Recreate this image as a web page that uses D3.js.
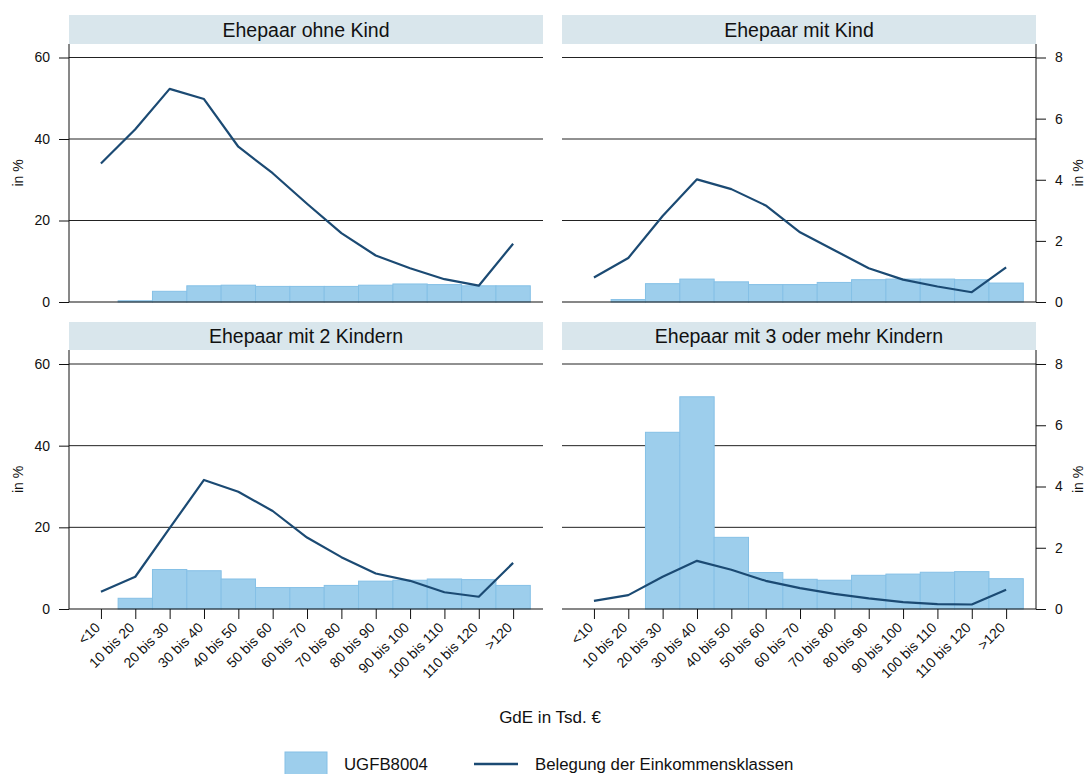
<!DOCTYPE html>
<html><head><meta charset="utf-8">
<script src="https://cdn.jsdelivr.net/npm/d3@7"></script>
<style>
body{margin:0;background:#fff}
svg{display:block;font-family:Arial,"Liberation Sans",sans-serif}
</style>
</head><body>
<svg id="chart" width="1085" height="774"></svg>
<script>
// ---------- data ----------
const categories = ["<10","10 bis 20","20 bis 30","30 bis 40","40 bis 50","50 bis 60","60 bis 70","70 bis 80","80 bis 90","90 bis 100","100 bis 110","110 bis 120",">120"];
const panelTitles = ["Ehepaar ohne Kind","Ehepaar mit Kind","Ehepaar mit 2 Kindern","Ehepaar mit 3 oder mehr Kindern"];

// UGFB8004 (bars, right axis 0-8)
const ugfbOhneKind   = [null,0.04,0.35,0.53,0.55,0.51,0.51,0.51,0.55,0.59,0.57,0.53,0.53];
const ugfbMitKind    = [null,0.08,0.60,0.75,0.66,0.57,0.57,0.64,0.73,0.75,0.75,0.73,0.62];
const ugfbZweiKinder = [null,0.35,1.29,1.25,0.98,0.70,0.70,0.77,0.91,0.94,0.98,0.96,0.77];
const ugfbDreiKinder = [null,null,5.77,6.93,2.34,1.19,0.97,0.94,1.10,1.14,1.20,1.22,0.99];

// Belegung der Einkommensklassen (line, left axis 0-60)
const belegOhneKind   = [34.0,42.4,52.3,49.8,38.1,31.6,24.1,16.9,11.4,8.3,5.6,4.0,14.3];
const belegMitKind    = [6.0,10.8,21.1,30.1,27.7,23.7,17.1,12.7,8.3,5.5,3.8,2.4,8.5];
const belegZweiKinder = [4.2,7.9,19.8,31.6,28.7,24.0,17.5,12.7,8.7,6.9,4.1,3.0,11.3];
const belegDreiKinder = [2.0,3.4,7.9,11.8,9.6,6.9,5.1,3.7,2.6,1.7,1.2,1.1,4.7];

const leftTicks  = [0,20,40,60];
const rightTicks = [0,2,4,6,8];
const legendLabels = ["UGFB8004","Belegung der Einkommensklassen"];
const xTitle = "GdE in Tsd. €";
const yTitle = "in %";

// ---------- layout ----------
const barFill = "#9dceec", barStroke = "#85c0e6", lineColor = "#1b4a73", stripFill = "#d9e6ec";
const cols = [{x0:69,x1:543},{x0:562,x1:1036}];
const rows = [{stripTop:15,top:44,y60:57.5,y0:302},{stripTop:322,top:350,y60:364,y0:609}];

const barsData = [ugfbOhneKind, ugfbMitKind, ugfbZweiKinder, ugfbDreiKinder];
const lineData = [belegOhneKind, belegMitKind, belegZweiKinder, belegDreiKinder];

const svg = d3.select("#chart");

panelTitles.forEach((title, p) => {
  const c = cols[p % 2], r = rows[Math.floor(p / 2)];
  const isLeft = p % 2 === 0, isBottom = p >= 2;
  const g = svg.append("g");

  const x = d3.scaleLinear().domain([-0.93, 12.87]).range([c.x0, c.x1]);
  const yL = d3.scaleLinear().domain([0, 60]).range([r.y0, r.y60]);
  const yR = d3.scaleLinear().domain([0, 8]).range([r.y0, r.y60]);
  const bw = x(1) - x(0);

  // strip
  g.append("rect").attr("x", c.x0).attr("y", r.stripTop).attr("width", c.x1 - c.x0)
    .attr("height", r.top - r.stripTop).attr("fill", stripFill);
  g.append("text").attr("x", (c.x0 + c.x1) / 2).attr("y", (r.stripTop + r.top) / 2)
    .attr("dy", "0.36em").attr("text-anchor", "middle").attr("font-size", 19.5)
    .attr("fill", "#111").text(title);

  // gridlines (left axis)
  g.selectAll(".grid").data(leftTicks.filter(t => t > 0)).enter().append("line")
    .attr("x1", c.x0).attr("x2", c.x1)
    .attr("y1", d => yL(d)).attr("y2", d => yL(d))
    .attr("stroke", "#222").attr("stroke-width", 1);

  // bars
  const bars = barsData[p].map((v, i) => ({v, i})).filter(d => d.v != null && d.v > 0);
  g.selectAll(".bar").data(bars).enter().append("rect")
    .attr("x", d => x(d.i) - bw / 2).attr("width", bw)
    .attr("y", d => yR(d.v)).attr("height", d => r.y0 - yR(d.v))
    .attr("fill", barFill).attr("stroke", barStroke).attr("stroke-width", 1);

  // baseline
  g.append("line").attr("x1", c.x0).attr("x2", c.x1).attr("y1", r.y0).attr("y2", r.y0)
    .attr("stroke", "#111").attr("stroke-width", 1.2);

  // line
  const line = d3.line().x((d, i) => x(i)).y(d => yL(d));
  g.append("path").datum(lineData[p]).attr("d", line).attr("fill", "none")
    .attr("stroke", lineColor).attr("stroke-width", 2.2).attr("stroke-linejoin", "round");

  // y axis
  if (isLeft) {
    const ax = g.append("g").attr("transform", `translate(${c.x0},0)`)
      .call(d3.axisLeft(yL).tickValues(leftTicks).tickSize(10).tickPadding(9).tickFormat(d3.format("d")));
    ax.select(".domain").attr("d", `M0,${r.top}V${r.y0}`).attr("stroke", "#111");
    ax.selectAll("line").attr("stroke", "#111");
    ax.selectAll("text").attr("font-size", 14).attr("fill", "#111").attr("font-family", "Arial, 'Liberation Sans', sans-serif");
    g.append("text").attr("transform", `translate(18,${(r.top + r.y0) / 2}) rotate(-90)`)
      .attr("dy", "0.36em").attr("text-anchor", "middle").attr("font-size", 14).attr("fill", "#111").text(yTitle);
  } else {
    const ax = g.append("g").attr("transform", `translate(${c.x1},0)`)
      .call(d3.axisRight(yR).tickValues(rightTicks).tickSize(10).tickPadding(9).tickFormat(d3.format("d")));
    ax.select(".domain").attr("d", `M0,${r.top}V${r.y0}`).attr("stroke", "#111");
    ax.selectAll("line").attr("stroke", "#111");
    ax.selectAll("text").attr("font-size", 14).attr("fill", "#111").attr("font-family", "Arial, 'Liberation Sans', sans-serif");
    g.append("text").attr("transform", `translate(1078,${(r.top + r.y0) / 2}) rotate(-90)`)
      .attr("dy", "0.36em").attr("text-anchor", "middle").attr("font-size", 14).attr("fill", "#111").text(yTitle);
  }

  // x axis ticks and labels (bottom row only)
  if (isBottom) {
    const xa = g.append("g").attr("transform", `translate(0,${r.y0})`)
      .call(d3.axisBottom(x).tickValues(d3.range(categories.length)).tickSize(10).tickFormat(i => categories[i]));
    xa.select(".domain").remove();
    xa.selectAll("line").attr("stroke", "#111");
    xa.selectAll("text").attr("font-size", 14).attr("fill", "#111")
      .attr("font-family", "Arial, 'Liberation Sans', sans-serif")
      .attr("text-anchor", "end").attr("dy", "0.35em")
      .attr("transform", "translate(-4,16) rotate(-45)").attr("y", 0).attr("x", 0);
  }
});

// x title
svg.append("text").attr("x", 550).attr("y", 723).attr("text-anchor", "middle")
  .attr("font-size", 17).attr("fill", "#111").text(xTitle);

// legend
svg.append("rect").attr("x", 285).attr("y", 752).attr("width", 42).attr("height", 26)
  .attr("fill", barFill).attr("stroke", barStroke);
svg.append("text").attr("x", 344).attr("y", 770).attr("font-size", 16.8).attr("fill", "#111").text(legendLabels[0]);
svg.append("line").attr("x1", 474).attr("x2", 518).attr("y1", 764).attr("y2", 764)
  .attr("stroke", lineColor).attr("stroke-width", 2.6);
svg.append("text").attr("x", 535).attr("y", 770).attr("font-size", 16.8).attr("fill", "#111").text(legendLabels[1]);
</script>
</body></html>
